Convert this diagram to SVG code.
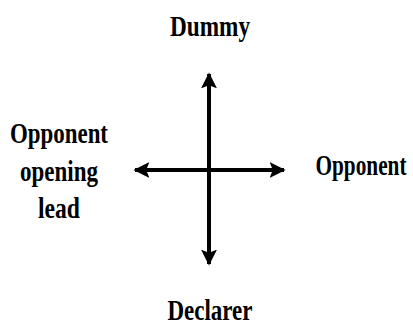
<svg xmlns="http://www.w3.org/2000/svg" width="413" height="326" viewBox="0 0 413 326">
<style>
text{font-family:"Liberation Serif","Times New Roman",serif;font-weight:bold;font-size:30px;fill:#000;text-anchor:middle}
.c line{stroke:#000;stroke-width:4}
</style>
<defs>
<marker id="ah" viewBox="0 0 10 10" refX="9" refY="5" markerWidth="4" markerHeight="4" orient="auto-start-reverse" markerUnits="strokeWidth">
<path d="M0,0 L10,5 L0,10 L2,5 Z" fill="#000"/>
</marker>
</defs>
<rect width="413" height="326" fill="#fff"/>
<g class="c" id="connectors">
<line x1="209" y1="264" x2="209" y2="74" marker-start="url(#ah)" marker-end="url(#ah)"/>
<line x1="135" y1="170" x2="284" y2="170" marker-start="url(#ah)" marker-end="url(#ah)"/>
</g>
<g id="dummy"><text x="210" y="36" textLength="80" lengthAdjust="spacingAndGlyphs">Dummy</text></g>
<g id="opponent-left">
<text x="59" y="143" textLength="98" lengthAdjust="spacingAndGlyphs">Opponent</text>
<text x="59" y="181" textLength="78" lengthAdjust="spacingAndGlyphs">opening</text>
<text x="59" y="218" textLength="42" lengthAdjust="spacingAndGlyphs">lead</text>
</g>
<g id="opponent-right" transform="translate(361,175) scale(0.71,1)"><text x="0" y="0">Opponent</text></g>
<g id="declarer"><text x="210" y="320" textLength="85" lengthAdjust="spacingAndGlyphs">Declarer</text></g>
</svg>
